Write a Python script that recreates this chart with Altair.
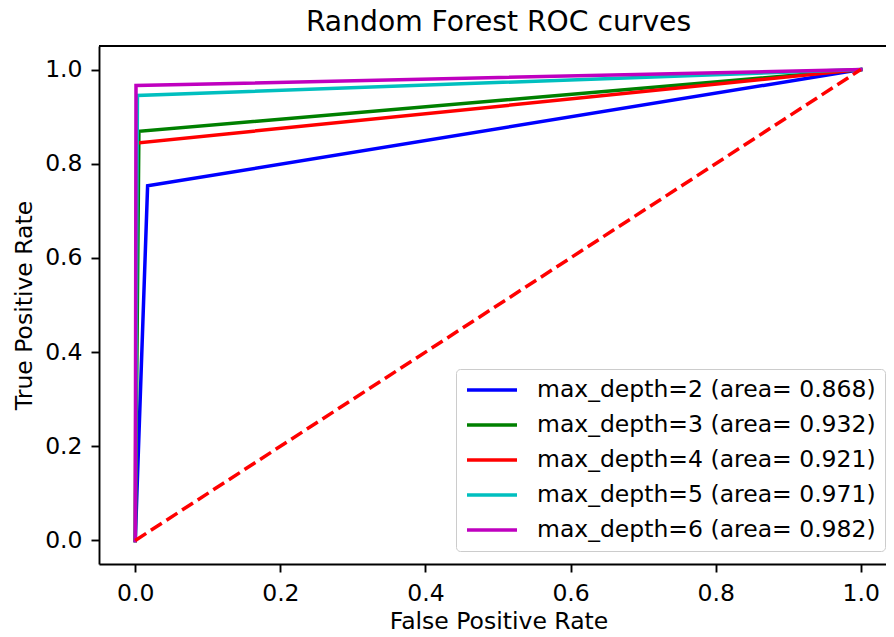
import altair as alt
import pandas as pd

# ---- data ----
series_labels = [
    "max_depth=2 (area= 0.868)",
    "max_depth=3 (area= 0.932)",
    "max_depth=4 (area= 0.921)",
    "max_depth=5 (area= 0.971)",
    "max_depth=6 (area= 0.982)",
]
series_colors = ["#0000ff", "#008000", "#ff0000", "#00bfbf", "#bf00bf"]
# each ROC curve: (0,0) -> (fpr_mid, tpr_mid) -> (1,1)
fpr_mid = [0.017, 0.005, 0.002, 0.003, 0.001]
tpr_mid = [0.753, 0.869, 0.844, 0.945, 0.966]
diag_fpr = [0.0, 1.0]
diag_tpr = [0.0, 1.0]
tick_values = [0.0, 0.2, 0.4, 0.6, 0.8, 1.0]

rows = []
for i, (lab, f, t) in enumerate(zip(series_labels, fpr_mid, tpr_mid)):
    for k, (x, y) in enumerate([(0.0, 0.0), (f, t), (1.0, 1.0)]):
        rows.append({"series": lab, "fpr": x, "tpr": y, "k": k})
df = pd.DataFrame(rows)
diag_df = pd.DataFrame({"fpr": diag_fpr, "tpr": diag_tpr, "k": [0, 1]})

FONT = "DejaVu Sans"
FS = 23.5
W, H = 787, 518

xscale = alt.Scale(domain=[-0.05, -0.05 + W / 725.5], nice=False, zero=False)
yscale = alt.Scale(domain=[-0.05, 1.05], nice=False, zero=False)

xaxis = alt.Axis(
    values=tick_values, format=".1f", title="False Positive Rate",
    grid=False, labelPadding=9.5, titleX=399.5, titleY=64,
    titleBaseline="alphabetic", titleAlign="center",
)
yaxis = alt.Axis(
    values=tick_values, format=".1f", title="True Positive Rate",
    grid=False, labelPadding=9, titleX=-68, titleY=H / 2,
    titleAngle=270, titleBaseline="alphabetic", titleAlign="center",
)

lines = alt.Chart(df).mark_line(strokeWidth=3.5, strokeCap="square", strokeJoin="miter").encode(
    x=alt.X("fpr:Q", scale=xscale, axis=xaxis),
    y=alt.Y("tpr:Q", scale=yscale, axis=yaxis),
    color=alt.Color(
        "series:N",
        scale=alt.Scale(domain=series_labels, range=series_colors),
        legend=alt.Legend(title=None),
    ),
    order="k:O",
)

diag = alt.Chart(diag_df).mark_line(
    color="#ff0000", strokeWidth=3.5, strokeDash=[13, 5.6], strokeCap="butt"
).encode(
    x=alt.X("fpr:Q", scale=xscale),
    y=alt.Y("tpr:Q", scale=yscale),
    order="k:O",
)

top_border = alt.Chart(diag_df).mark_rule(color="black", strokeWidth=1.9).encode(
    x=alt.value(0), x2=alt.value(W), y=alt.value(0)
)

chart = (
    alt.layer(lines, diag, top_border)
    .properties(
        width=W,
        height=H,
        autosize=alt.AutoSizeParams(type="none"),
        padding={"left": 91, "top": 38, "right": 0, "bottom": 65},
        title=alt.TitleParams(
            "Random Forest ROC curves", font=FONT, fontSize=28.2,
            fontWeight="normal", color="black", anchor="middle",
            frame="group", dx=6, offset=8,
        ),
    )
    .configure_view(strokeWidth=0)
    .configure_axis(
        labelFont=FONT, labelFontSize=FS, labelColor="black",
        titleFont=FONT, titleFontSize=FS, titleFontWeight="normal", titleColor="black",
        tickColor="black", tickWidth=1.9, tickSize=8,
        domainColor="black", domainWidth=1.9,
    )
    .configure_legend(
        orient="none", legendX=357, legendY=323,
        padding=9, strokeColor="#cccccc", fillColor="rgba(255,255,255,0.8)",
        cornerRadius=4, labelFont=FONT, labelFontSize=FS, labelColor="black",
        symbolType="stroke", symbolStrokeWidth=3.5, symbolSize=2500,
        labelOffset=18, rowPadding=11, clipHeight=24, labelLimit=500,
    )
)

chart.save("out.html", embed_options={"renderer": "svg", "actions": False})
